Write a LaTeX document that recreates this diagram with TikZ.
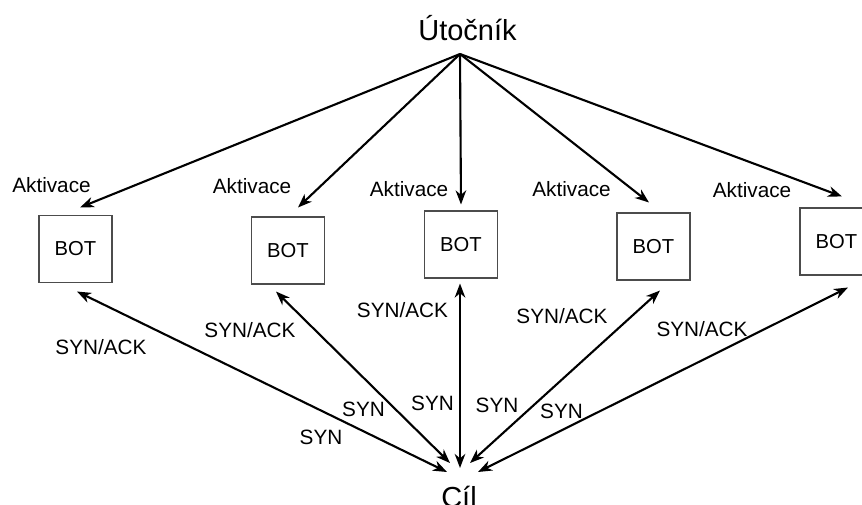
\documentclass[tikz,border=0pt]{standalone}
\usepackage{fontspec}
\setmainfont{Liberation Sans}
\usetikzlibrary{arrows.meta}

\begin{document}
\begin{tikzpicture} [
						x=0.02cm, y=-0.02cm,
						>={Stealth[length=8pt, width=6pt, inset=2.5pt]},
						bot/.style={draw=black!70, line width=0.6pt, minimum width=1.46cm,
							minimum height=1.34cm, font=\fontsize{11.5}{14}\selectfont},
						lbl/.style={inner sep=0pt, font=\fontsize{11.8}{14}\selectfont},
						big/.style={anchor=base, inner sep=0pt, font=\fontsize{16.5}{20}\selectfont}
					]

\useasboundingbox (0,0) rectangle (862,504);

\node (att) [big] at (467.5,40) {Útočník};
\node (cil) [big] at (459,507) {Cíl};

\node (b1) [bot] at (75.5,249)  {BOT};
\node (b2) [bot] at (288,250.5) {BOT};
\node (b3) [bot] at (461,244.5) {BOT};
\node (b4) [bot] at (653.5,246.5) {BOT};
\node (b5) [bot] at (836.5,241.5) {BOT};

% aktivace botu
\node (akt1) [lbl] at (51.5,185)  {Aktivace};
\node (akt2) [lbl] at (252,186)   {Aktivace};
\node (akt3) [lbl] at (409,189.5) {Aktivace};
\node (akt4) [lbl] at (571.5,189.5) {Aktivace};
\node (akt5) [lbl] at (752,190)   {Aktivace};

% odpovedi
\node (ack1) [lbl] at (101,347.5) {SYN/ACK};
\node (ack2) [lbl] at (250,330.5) {SYN/ACK};
\node (ack3) [lbl] at (402.5,310.5) {SYN/ACK};
\node (ack4) [lbl] at (562,316.5) {SYN/ACK};
\node (ack5) [lbl] at (702,329.5) {SYN/ACK};

\node (syn1) [lbl] at (321,437)   {SYN};
\node (syn2) [lbl] at (363.5,409.5) {SYN};
\node (syn3) [lbl] at (432.5,403) {SYN};
\node (syn4) [lbl] at (497,405)   {SYN};
\node (syn5) [lbl] at (561.5,411) {SYN};

\path[->, line width=1.2pt]
	([shift={(-7.5,14)}]att.base) edge ([shift={(4.5,-7.5)}]b1.north)
	([shift={(-7.5,14)}]att.base) edge ([shift={(10,-9)}]b2.north)
	([shift={(-7.5,14)}]att.base) edge ([shift={(0,-6)}]b3.north)
	([shift={(-7.5,14)}]att.base) edge ([shift={(-4.5,-10)}]b4.north)
	([shift={(-7.5,14)}]att.base) edge ([shift={(5.5,-11)}]b5.north);

\path[<->, line width=1.2pt]
	([shift={(1.5,8.5)}]b1.south) edge ([shift={(-12,-35)}]cil.base)
	([shift={(-12,7)}]b2.south)   edge ([shift={(-9,-44)}]cil.base)
	([shift={(-1,5)}]b3.south)    edge ([shift={(1,-39)}]cil.base)
	([shift={(6.5,10)}]b4.south)  edge ([shift={(11,-44)}]cil.base)
	([shift={(11.5,12)}]b5.south) edge ([shift={(19,-35)}]cil.base);
\end{tikzpicture}
\end{document}
